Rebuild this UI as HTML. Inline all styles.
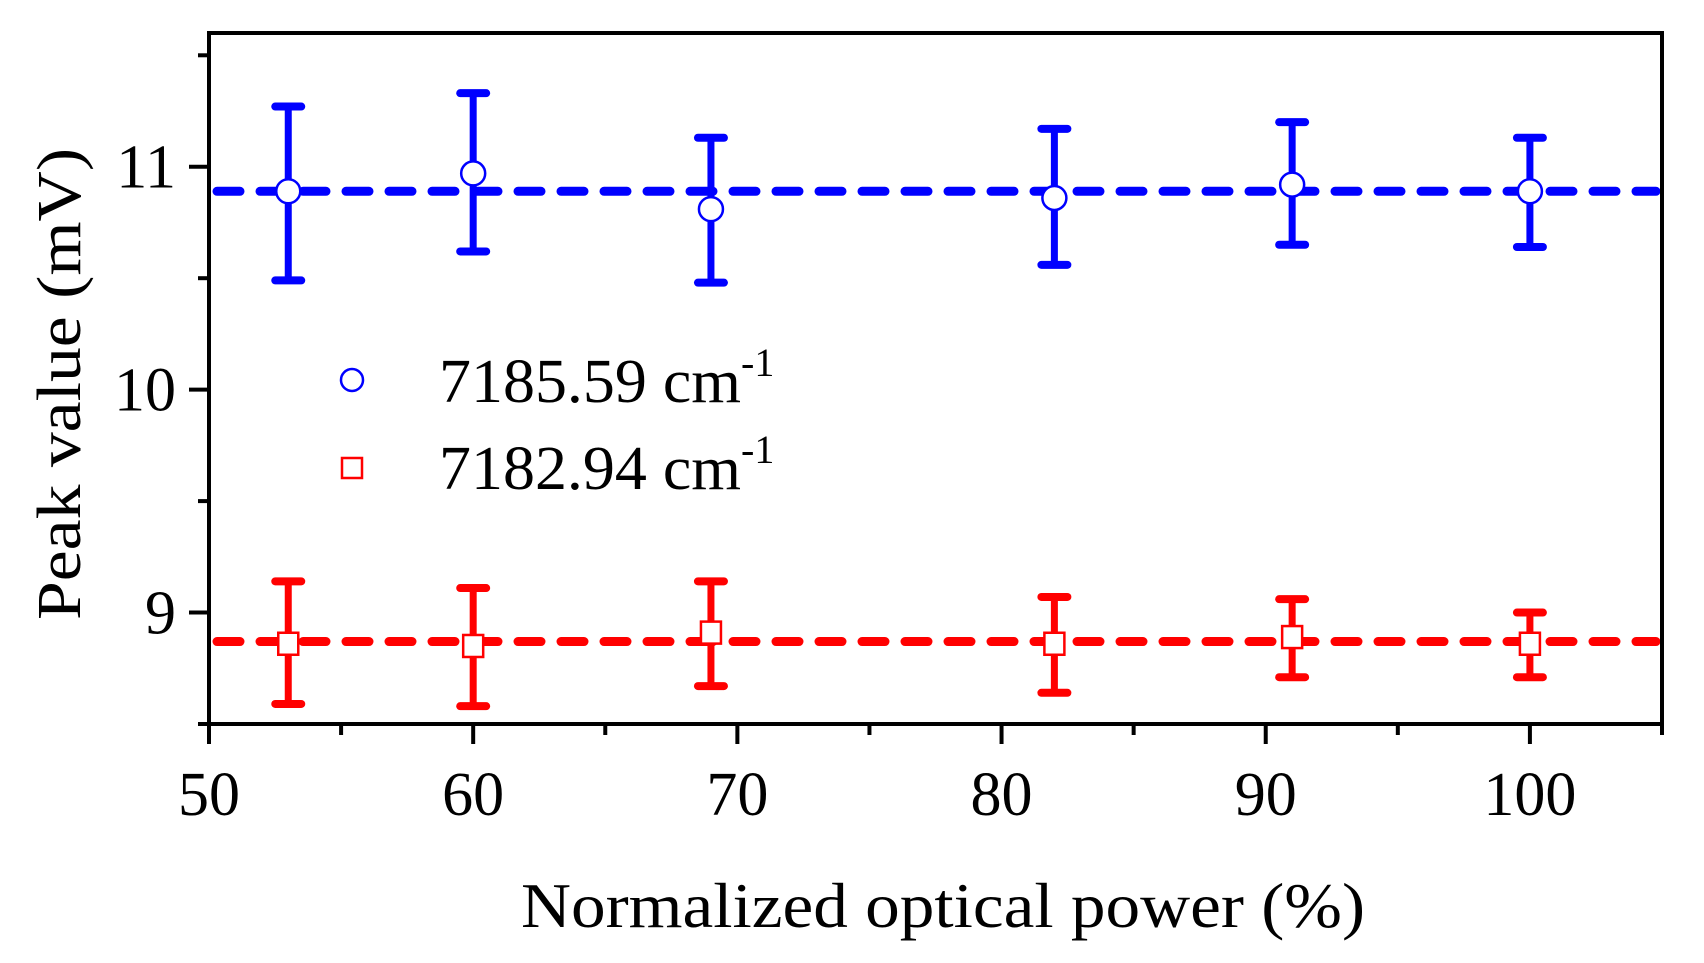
<!DOCTYPE html>
<html><head><meta charset="utf-8"><style>
html,body{margin:0;padding:0;background:#fff;}
svg{display:block;font-family:"Liberation Serif",serif;}
</style></head><body>
<svg id="chart" width="1704" height="963" viewBox="0 0 1704 963">
<g id="plot"></g>
</svg>
<script>
const xTicks=[50,60,70,80,90,100];
const xMinor=[55,65,75,85,95,105];
const yTicks=[9,10,11];
const yMinor=[8.5,9.5,10.5,11.5];
const powers=[53,60,69,82,91,100];
const blueVals=[10.89,10.97,10.81,10.86,10.92,10.89];
const blueHi=[11.27,11.33,11.13,11.17,11.20,11.13];
const blueLo=[10.49,10.62,10.48,10.56,10.65,10.64];
const blueMean=[10.89];
const redVals=[8.86,8.85,8.91,8.86,8.89,8.86];
const redHi=[9.14,9.11,9.14,9.07,9.06,9.00];
const redLo=[8.59,8.58,8.67,8.64,8.71,8.71];
const redMean=[8.87];

const L=209,R=1662,T=33,B=724;
const xMin=50,xMax=105,yMin=8.5,yMax=11.6;
const X=v=>L+(v-xMin)/(xMax-xMin)*(R-L);
const Y=v=>B-(v-yMin)/(yMax-yMin)*(B-T);
const NS="http://www.w3.org/2000/svg";
const g=document.getElementById('plot');
function mk(tag,attrs,parent){const e=document.createElementNS(NS,tag);for(const k in attrs)e.setAttribute(k,attrs[k]);(parent||g).appendChild(e);return e;}

function meanLine(v,color,name){
  const l=mk('line',{x1:L+8,x2:R-6,y1:Y(v),y2:Y(v),stroke:color,'stroke-width':9,'stroke-dasharray':'23 20','stroke-linecap':'round'});
  
  
}
meanLine(blueMean[0],'#0000ff','blue-mean-line');
meanLine(redMean[0],'#ff0000','red-mean-line');

function series(vals,hi,lo,color,shape,prefix){
  for(let i=0;i<powers.length;i++){
    const x=X(powers[i]);
    const grp=mk('g',{});
    
    
    mk('line',{x1:x,x2:x,y1:Y(hi[i]),y2:Y(lo[i]),stroke:color,'stroke-width':7},grp);
    mk('line',{x1:x-13,x2:x+13,y1:Y(hi[i]),y2:Y(hi[i]),stroke:color,'stroke-width':8,'stroke-linecap':'round'},grp);
    mk('line',{x1:x-13,x2:x+13,y1:Y(lo[i]),y2:Y(lo[i]),stroke:color,'stroke-width':8,'stroke-linecap':'round'},grp);
    const y=Y(vals[i]);
    if(shape==='circle') mk('circle',{cx:x,cy:y,r:12,fill:'#fff',stroke:color,'stroke-width':2.5},grp);
    else mk('rect',{x:x-10,y:y-11,width:20,height:22,fill:'#fff',stroke:color,'stroke-width':2.5},grp);
  }
}
series(blueVals,blueHi,blueLo,'#0000ff','circle','blue');
series(redVals,redHi,redLo,'#ff0000','square','red');

const fr=mk('rect',{x:L,y:T,width:R-L,height:B-T,fill:'none',stroke:'#000','stroke-width':4});



xTicks.forEach(v=>{
  mk('line',{x1:X(v),x2:X(v),y1:B,y2:B+20,stroke:'#000','stroke-width':4});
  const t=mk('text',{x:X(v),y:815,'text-anchor':'middle','font-size':62});
  t.textContent=v;
  
  
});
xMinor.forEach(v=>mk('line',{x1:X(v),x2:X(v),y1:B,y2:B+11,stroke:'#000','stroke-width':4}));
yTicks.forEach(v=>{
  mk('line',{x1:L,x2:L-20,y1:Y(v),y2:Y(v),stroke:'#000','stroke-width':4});
  const t=mk('text',{x:176,y:Y(v)+21,'text-anchor':'end','font-size':62});
  t.textContent=v;
  
  
});
yMinor.forEach(v=>mk('line',{x1:L,x2:L-11,y1:Y(v),y2:Y(v),stroke:'#000','stroke-width':4}));
</script>
<script>
const s=document.getElementById('chart');
s.insertAdjacentHTML('beforeend',`
<text x="943" y="927" text-anchor="middle" font-size="64" textLength="844" lengthAdjust="spacingAndGlyphs">Normalized optical power (%)</text>
<text transform="translate(80,384) rotate(-90)" text-anchor="middle" font-size="62" textLength="472" lengthAdjust="spacingAndGlyphs">Peak value (mV)</text>
<g>
<circle cx="352" cy="380" r="11" fill="#fff" stroke="#0000ff" stroke-width="2.5"/>
<text x="439" y="402" font-size="62"><tspan textLength="302" lengthAdjust="spacingAndGlyphs">7185.59 cm</tspan><tspan font-size="40" dy="-26">-1</tspan></text>
<rect x="342" y="458" width="20" height="20" fill="#fff" stroke="#ff0000" stroke-width="2.5"/>
<text x="439" y="489" font-size="62"><tspan textLength="302" lengthAdjust="spacingAndGlyphs">7182.94 cm</tspan><tspan font-size="40" dy="-26">-1</tspan></text>
</g>`);
</script>
</body></html>
